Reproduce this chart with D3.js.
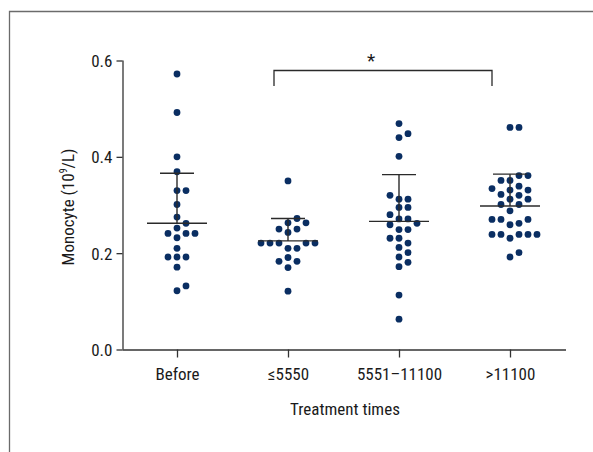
<!DOCTYPE html>
<html>
<head>
<meta charset="utf-8">
<script src="https://cdn.jsdelivr.net/npm/d3@7"></script>
<style>
  body { margin: 0; background: #fff; }
  svg { display: block; }
  text { font-family: "Roboto Condensed", "Liberation Sans Narrow", sans-serif; fill: #1a1a1a; }
</style>
</head>
<body>
<svg></svg>
<script>
const width = 593;
const height = 452;

// groups on the x axis
const categories = ["Before", "\u22645550", "5551\u201311100", ">11100"];

// monocyte counts (10^9/L)
const before = [0.572, 0.492, 0.400, 0.369, 0.330, 0.330, 0.301, 0.275, 0.262, 0.252,
  0.241, 0.241, 0.241, 0.232, 0.210, 0.192, 0.192, 0.192, 0.171, 0.132, 0.122];
const upTo5550 = [0.350, 0.272, 0.263, 0.263, 0.250, 0.250, 0.243, 0.221, 0.221, 0.221,
  0.221, 0.221, 0.210, 0.210, 0.191, 0.183, 0.183, 0.170, 0.121];
const from5551 = [0.469, 0.448, 0.440, 0.401, 0.320, 0.312, 0.312, 0.295, 0.295, 0.280,
  0.271, 0.271, 0.262, 0.259, 0.249, 0.249, 0.231, 0.231, 0.221, 0.212, 0.201, 0.192,
  0.181, 0.172, 0.113, 0.063];
const over11100 = [0.461, 0.461, 0.361, 0.361, 0.351, 0.351, 0.339, 0.334, 0.331, 0.331,
  0.322, 0.320, 0.312, 0.312, 0.301, 0.301, 0.288, 0.270, 0.270, 0.270, 0.262, 0.259,
  0.239, 0.239, 0.239, 0.239, 0.239, 0.231, 0.201, 0.192];
const series = [before, upTo5550, from5551, over11100];

// summary lines (mean and upper SD) as drawn
const means = [0.262, 0.2255, 0.266, 0.298];
const sdUpper = [0.366, 0.272, 0.363, 0.364];

const yTicks = [0, 0.2, 0.4, 0.6];

const dotColor = "#0a2e62";
const dotR = 3.4;
const slot = 9;

var svg = d3.select("svg")
  .attr("width", width)
  .attr("height", height);

// frame
svg.append("path")
  .attr("d", "M9.5," + height + "V11.5H" + width)
  .attr("fill", "none")
  .attr("stroke", "#6b6b6b")
  .attr("stroke-width", 1.3);

const x = d3.scalePoint()
  .domain(categories)
  .range([177, 510]);

const y = d3.scaleLinear()
  .domain([0, 0.6])
  .range([349.5, 60.5]);

// axes
const yAxis = svg.append("g")
  .attr("transform", "translate(122.5,0)")
  .call(d3.axisLeft(y).tickValues(yTicks).tickFormat(d3.format(".1f")).tickSize(6).tickPadding(4));

const xAxis = svg.append("g")
  .attr("transform", "translate(0,349.5)")
  .call(d3.axisBottom(x).tickSize(8).tickPadding(10));

xAxis.select(".domain").attr("d", "M122.5,0.5H566");
yAxis.select(".domain").attr("d", "M0.5,60.5V349.5");

svg.selectAll(".domain, .tick line")
  .attr("stroke", "#333")
  .attr("stroke-width", 1.3);
svg.selectAll(".tick text")
  .attr("font-size", 17)
  .attr("fill", "#1a1a1a");
yAxis.selectAll(".tick text").attr("dy", "0.36em");

// axis titles
svg.append("text")
  .attr("x", 345)
  .attr("y", 415)
  .attr("text-anchor", "middle")
  .attr("font-size", 17)
  .text("Treatment times");

const yTitle = svg.append("text")
  .attr("transform", "translate(74,207) rotate(-90)")
  .attr("text-anchor", "middle")
  .attr("font-size", 17);
yTitle.append("tspan").text("Monocyte (10");
yTitle.append("tspan").attr("font-size", 10).attr("dy", -7).text("9");
yTitle.append("tspan").attr("dy", 7).text("/L)");

// simple swarm: lowest values first, nearest free slot to the centre
function swarm(values) {
  const order = [0, 1, -1, 2, -2, 3, -3, 4, -4, 5, -5];
  const placed = [];
  return values.slice().sort((a, b) => a - b).map(v => {
    const py = y(v);
    const k = order.find(k => !placed.some(p => p.k === k && Math.abs(p.py - py) < dotR * 2));
    placed.push({ k: k, py: py });
    return { v: v, k: k };
  });
}

series.forEach((vals, i) => {
  const cx = x(categories[i]);
  svg.append("g")
    .selectAll("circle")
    .data(swarm(vals))
    .enter().append("circle")
    .attr("cx", d => cx + d.k * slot)
    .attr("cy", d => y(d.v))
    .attr("r", dotR)
    .attr("fill", dotColor);
});

// mean and SD bars
const bars = svg.append("g")
  .attr("stroke", "#2a2a2a")
  .attr("stroke-width", 1.4)
  .attr("fill", "none");

categories.forEach((c, i) => {
  const cx = x(c);
  bars.append("line")
    .attr("x1", cx - 30).attr("x2", cx + 30)
    .attr("y1", y(means[i])).attr("y2", y(means[i]));
  bars.append("line")
    .attr("x1", cx).attr("x2", cx)
    .attr("y1", y(means[i])).attr("y2", y(sdUpper[i]));
  bars.append("line")
    .attr("x1", cx - 17).attr("x2", cx + 17)
    .attr("y1", y(sdUpper[i])).attr("y2", y(sdUpper[i]));
});

// significance bracket between the second and the last group
const bx1 = x(categories[1]) - 14;
const bx2 = x(categories[3]) - 18;
svg.append("path")
  .attr("d", "M" + bx1 + ",86V70.5H" + bx2 + "V86")
  .attr("fill", "none")
  .attr("stroke", "#2a2a2a")
  .attr("stroke-width", 1.3);

svg.append("text")
  .attr("x", (bx1 + bx2) / 2 - 12)
  .attr("y", 67)
  .attr("text-anchor", "middle")
  .attr("font-size", 19)
  .text("*");
</script>
</body>
</html>
